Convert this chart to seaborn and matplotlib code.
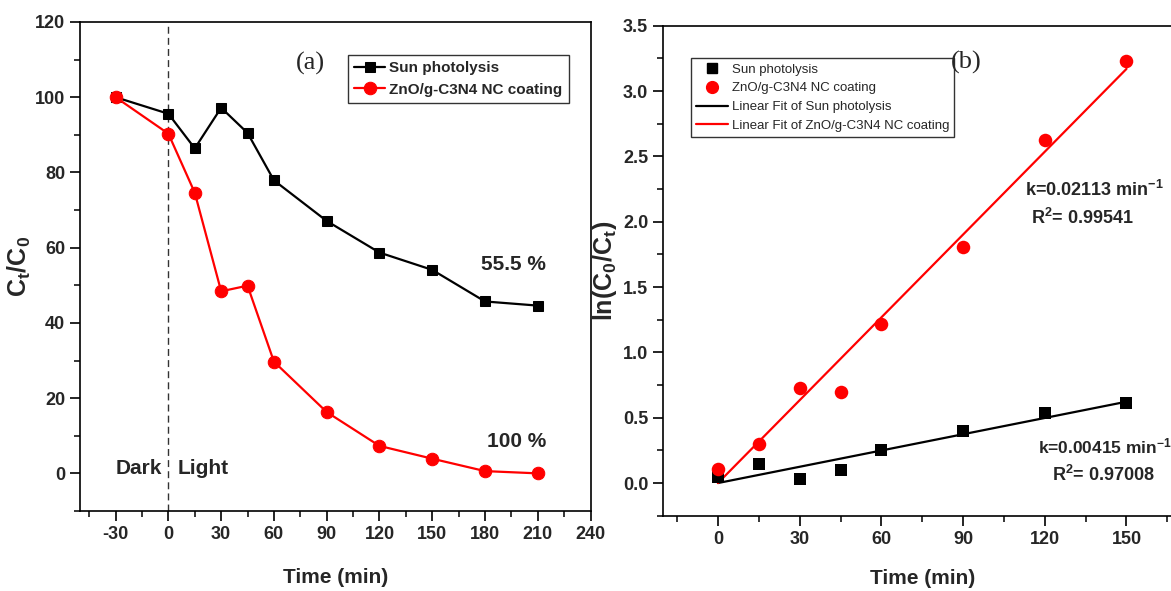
import numpy as np
import pandas as pd
import matplotlib
matplotlib.use("Agg")
import matplotlib.pyplot as plt
from matplotlib import font_manager
from matplotlib.ticker import MultipleLocator, FormatStrFormatter
from matplotlib.lines import Line2D
import seaborn as sns

# ---------------- data ----------------
time_a = [-30, 0, 15, 30, 45, 60, 90, 120, 150, 180, 210]
sun_a = [100, 95.6, 86.4, 97.2, 90.5, 77.9, 67.1, 58.7, 54.1, 45.7, 44.6]
zno_a = [100, 90.3, 74.6, 48.4, 49.9, 29.7, 16.3, 7.3, 3.9, 0.6, 0.0]

time_b = [0, 15, 30, 45, 60, 90, 120, 150]
sun_b = [0.048, 0.148, 0.03, 0.10, 0.252, 0.40, 0.533, 0.614]
zno_b = [0.107, 0.296, 0.73, 0.696, 1.214, 1.81, 2.622, 3.23]
k_sun = 0.00415
k_zno = 0.02113
r2_sun = 0.97008
r2_zno = 0.99541
fit_t = [0, 150]

label_sun = "Sun photolysis"
label_zno = "ZnO/g-C3N4 NC coating"

# ---------------- style ----------------
sns.set_style("ticks")
names = {f.name for f in font_manager.fontManager.ttflist}
narrow = "Liberation Sans Narrow" if "Liberation Sans Narrow" in names else "Liberation Sans"
plt.rcParams["font.family"] = [narrow, "DejaVu Sans"]
plt.rcParams["axes.unicode_minus"] = False
plt.rcParams["mathtext.fontset"] = "custom"
plt.rcParams["mathtext.rm"] = f"{narrow}:bold"
plt.rcParams["mathtext.it"] = f"{narrow}:bold"
plt.rcParams["mathtext.bf"] = f"{narrow}:bold"
plt.rcParams["mathtext.default"] = "rm"

fig = plt.figure(figsize=(11.71, 5.91), dpi=100)
ax1 = fig.add_axes([0.0687, 0.1354, 0.4356, 0.8274])
ax2 = fig.add_axes([0.5666, 0.1274, 0.4419, 0.8291])

tick_fs = 13
for ax in (ax1, ax2):
    for s in ax.spines.values():
        s.set_linewidth(1.2)
        s.set_color("black")
    ax.tick_params(which="major", direction="out", length=7, width=1.2,
                   labelsize=tick_fs, top=False, right=False, color="black",
                   pad=4)
    ax.tick_params(which="minor", direction="out", length=4, width=1.1,
                   top=False, right=False, color="black")

# ---------------- panel (a) ----------------
dfa = pd.DataFrame({"t": time_a, "sun": sun_a, "zno": zno_a})
ax1.axvline(0, color="#333333", lw=1.0, ls=(0, (5, 3)), zorder=1)
sns.lineplot(data=dfa, x="t", y="sun", ax=ax1, color="black", lw=1.6,
             marker="s", markersize=7, markeredgecolor="black",
             label=label_sun, zorder=3)
sns.lineplot(data=dfa, x="t", y="zno", ax=ax1, color="#ff0000", lw=1.6,
             marker="o", markersize=9, markeredgecolor="#ff0000",
             label=label_zno, zorder=3)
ax1.set_xlim(-50, 240)
ax1.set_ylim(-10, 120)
ax1.set_xticks(np.arange(-30, 241, 30))
ax1.set_yticks(np.arange(0, 121, 20))
ax1.xaxis.set_minor_locator(MultipleLocator(15))
ax1.yaxis.set_minor_locator(MultipleLocator(10))
for lab in ax1.get_xticklabels() + ax1.get_yticklabels():
    lab.set_fontweight("bold")
ax1.set_xlabel("Time (min)", fontsize=15, fontweight="bold", labelpad=18)
ax1.set_ylabel("C$_t$/C$_0$", fontsize=18, fontweight="bold")
ax1.yaxis.set_label_coords(-0.093, 0.5)
leg1 = ax1.legend(loc="upper left", bbox_to_anchor=(0.525, 0.9325),
                  prop={"family": [narrow], "weight": "bold", "size": 11},
                  frameon=True, fancybox=False, edgecolor="#333333",
                  framealpha=1, borderaxespad=0, handlelength=2.0,
                  handletextpad=0.3, labelspacing=0.5, borderpad=0.4)
leg1.get_frame().set_linewidth(1.0)
ax1.text(81, 109, "(a)", fontsize=19, family="Liberation Serif",
         ha="center", va="center")
ax1.text(196, 55.4, "55.5 %", fontsize=15, fontweight="bold",
         ha="center", va="center")
ax1.text(198, 8.5, "100 %", fontsize=15, fontweight="bold",
         ha="center", va="center")
ax1.text(-16.6, 1.4, "Dark", fontsize=15, fontweight="bold",
         ha="center", va="center")
ax1.text(19.8, 1.4, "Light", fontsize=15, fontweight="bold",
         ha="center", va="center")

# ---------------- panel (b) ----------------
dfb = pd.DataFrame({"t": time_b, "sun": sun_b, "zno": zno_b})
dff = pd.DataFrame({"t": fit_t,
                    "sun": [k_sun * t for t in fit_t],
                    "zno": [k_zno * t for t in fit_t]})
sns.lineplot(data=dff, x="t", y="sun", ax=ax2, color="black", lw=1.6, zorder=2)
sns.lineplot(data=dff, x="t", y="zno", ax=ax2, color="#ff0000", lw=1.6, zorder=2)
sns.scatterplot(data=dfb, x="t", y="sun", ax=ax2, color="black", marker="s",
                s=75, edgecolor="black", linewidth=0, zorder=3)
sns.scatterplot(data=dfb, x="t", y="zno", ax=ax2, color="#ff0000", marker="o",
                s=95, edgecolor="#ff0000", linewidth=0, zorder=3)
ax2.set_xlim(-20, 170)
ax2.set_ylim(-0.25, 3.5)
ax2.set_xticks(np.arange(0, 151, 30))
ax2.xaxis.set_minor_locator(MultipleLocator(15))
ax2.set_yticks(np.arange(0, 3.51, 0.5))
ax2.yaxis.set_minor_locator(MultipleLocator(0.25))
ax2.yaxis.set_major_formatter(FormatStrFormatter("%.1f"))
for lab in ax2.get_xticklabels() + ax2.get_yticklabels():
    lab.set_fontweight("bold")
ax2.set_xlabel("Time (min)", fontsize=15, fontweight="bold", labelpad=15)
ax2.set_ylabel("ln(C$_0$/C$_t$)", fontsize=18, fontweight="bold")
ax2.yaxis.set_label_coords(-0.086, 0.5)

handles = [
    Line2D([], [], ls="none", marker="s", color="black", markersize=7.5),
    Line2D([], [], ls="none", marker="o", color="#ff0000", markersize=8.5),
    Line2D([], [], color="black", lw=1.6),
    Line2D([], [], color="#ff0000", lw=1.6),
]
labels = [label_sun, label_zno, "Linear Fit of " + label_sun,
          "Linear Fit of " + label_zno]
leg2 = ax2.legend(handles, labels, loc="upper left",
                  bbox_to_anchor=(0.0528, 0.934),
                  prop={"family": [narrow], "size": 9.5},
                  frameon=True, fancybox=False, edgecolor="#333333",
                  framealpha=1, borderaxespad=0, handlelength=2.4,
                  handletextpad=0.3, labelspacing=0.5, borderpad=0.4)
leg2.get_frame().set_linewidth(1.0)
ax2.text(91, 3.22, "(b)", fontsize=19, family="Liberation Serif",
         ha="center", va="center", zorder=6)
ax2.text(112.8, 2.24, f"k={k_zno:.5f} min$^{{-1}}$", fontsize=13,
         fontweight="bold", ha="left", va="center")
ax2.text(114.9, 2.03, f"R$^{{2}}$= {r2_zno:.5f}", fontsize=13,
         fontweight="bold", ha="left", va="center")
ax2.text(117.5, 0.278, f"k={k_sun:.5f} min$^{{-1}}$", fontsize=12.5,
         fontweight="bold", ha="left", va="center")
ax2.text(122.8, 0.061, f"R$^{{2}}$= {r2_sun:.5f}", fontsize=13,
         fontweight="bold", ha="left", va="center")

fig.savefig("out.png", dpi=100)
